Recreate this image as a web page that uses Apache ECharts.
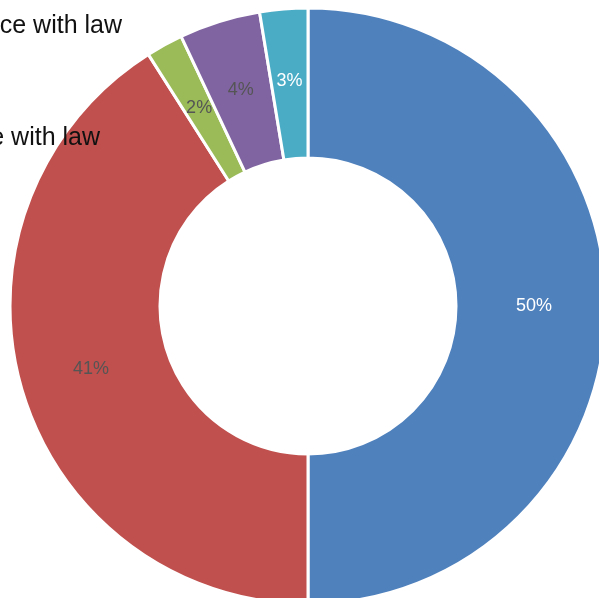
<!DOCTYPE html>
<html>
<head>
<meta charset="utf-8">
<script src="https://cdn.jsdelivr.net/npm/echarts@6/dist/echarts.min.js"></script>
<style>
  html, body { margin: 0; padding: 0; background: #fff; }
  #chart { width: 599px; height: 598px; }
</style>
</head>
<body>
<div id="chart"></div>
<script>
// Share of responses per category (percent)
const categories = ['Full compliance', 'Non-compliance', 'Other', 'Partial', 'Unknown'];
const shares = [50.0, 41.0, 2.0, 4.4, 2.6];
const sliceColors = ['#4f81bd', '#c0504d', '#9bbb59', '#8064a2', '#4bacc6'];
const labelColors = ['#ffffff', '#555555', '#555555', '#555555', '#ffffff'];
const sideTexts = ['Partial compliance with law', 'Full compliance with law'];

const chart = echarts.init(document.getElementById('chart'), null, { renderer: 'canvas' });

const pieData = categories.map((name, i) => ({
  name: name,
  value: shares[i],
  itemStyle: { color: sliceColors[i] },
  label: { color: labelColors[i] }
}));

const textStyle = {
  fill: '#111111',
  fontSize: 25,
  fontFamily: '"Liberation Sans", Arial, sans-serif',
  textAlign: 'right'
};

chart.setOption({
  animation: false,
  backgroundColor: '#ffffff',
  graphic: [
    {
      type: 'text', right: 477, top: 14, z: 100,
      style: Object.assign({ text: sideTexts[0] }, textStyle)
    },
    {
      type: 'text', right: 499, top: 126, z: 100,
      style: Object.assign({ text: sideTexts[1] }, textStyle)
    }
  ],
  series: [{
    type: 'pie',
    center: [308, 306],
    radius: [148, 298],
    startAngle: 90,
    clockwise: true,
    z: 1,
    avoidLabelOverlap: false,
    itemStyle: { borderColor: '#ffffff', borderWidth: 3 },
    label: {
      show: true,
      position: 'inside',
      fontFamily: '"Liberation Sans", Arial, sans-serif',
      fontSize: 18,
      formatter: p => Math.round(p.percent) + '%'
    },
    labelLine: { show: false },
    emphasis: { disabled: true },
    data: pieData
  }]
});
</script>
</body>
</html>
